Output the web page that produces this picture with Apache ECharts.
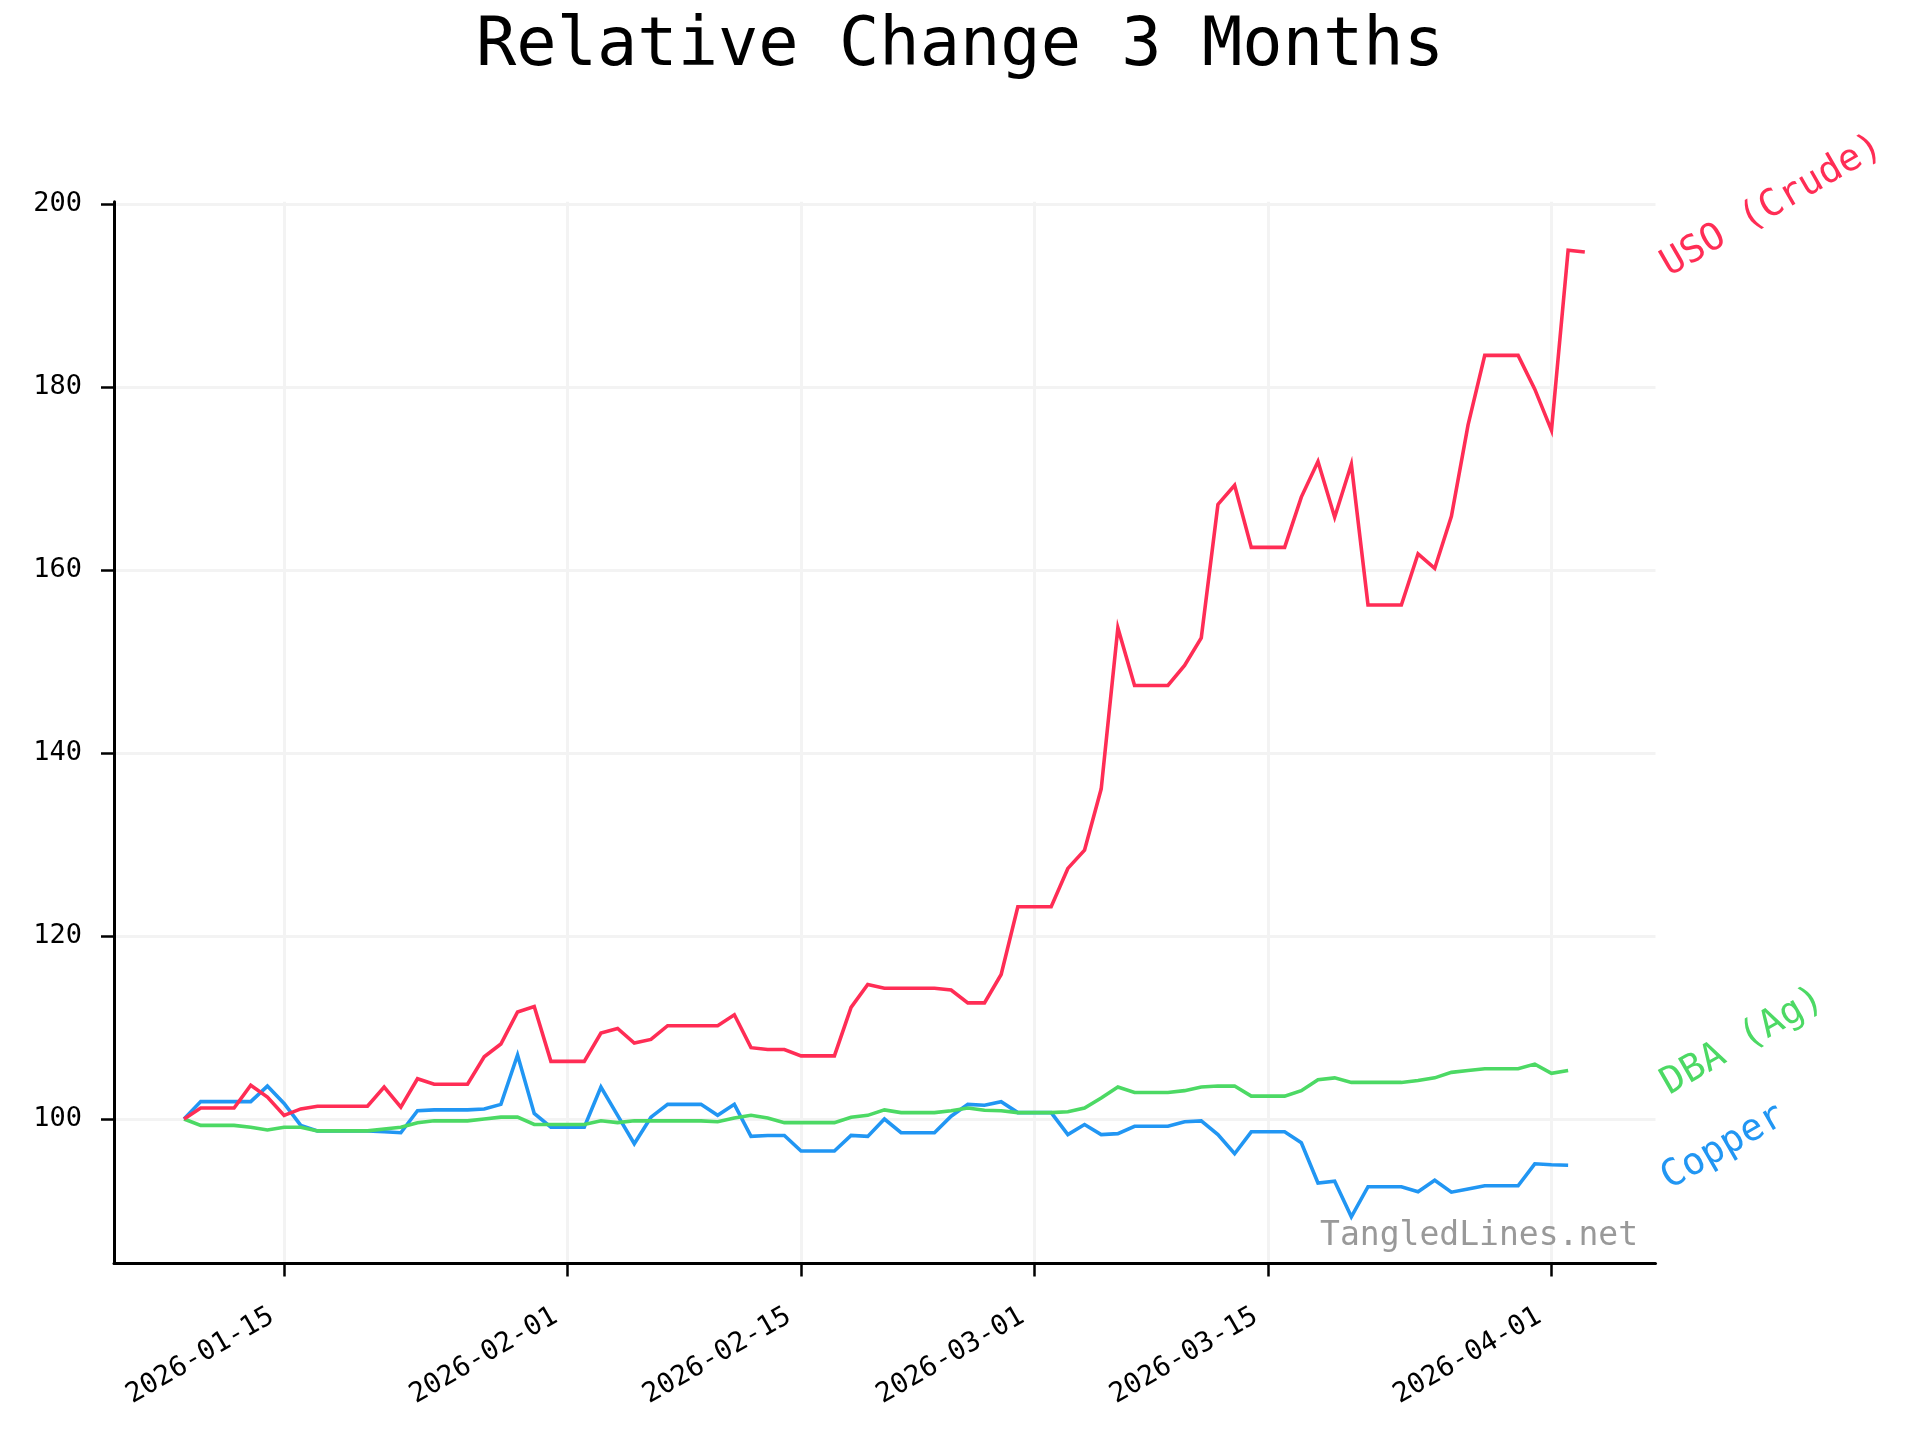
<!DOCTYPE html>
<html>
<head>
<meta charset="utf-8">
<script src="https://cdn.jsdelivr.net/npm/echarts@6/dist/echarts.min.js"></script>
<style>
html,body{margin:0;padding:0;background:#fff;}
#chart{width:1920px;height:1440px;}
</style>
</head>
<body>
<div id="chart"></div>
<script>
// ---- data (daily, 2026-01-09 onwards) ----
const startDate = [2026, 0, 9];
const usoValues = [
  100, 101.2, 101.2, 101.2, 103.7, 102.4, 100.4, 101.1, 101.4, 101.4, 101.4, 101.4, 103.5, 101.3, 104.4, 103.8, 103.8, 103.8, 106.8, 108.2, 111.7, 112.3, 106.3,
  106.3, 106.3, 109.4, 109.9, 108.3, 108.7, 110.2, 110.2, 110.2, 110.2, 111.4, 107.8, 107.6, 107.6, 106.9, 106.9, 106.9, 112.2, 114.7, 114.3, 114.3, 114.3, 114.3, 114.1, 112.7, 112.7, 115.8, 123.2,
  123.2, 123.2, 127.4, 129.4, 136.1, 153.7, 147.4, 147.4, 147.4, 149.6, 152.6, 167.2, 169.3, 162.5, 162.5, 162.5, 168.0, 171.9, 165.8, 171.6, 156.2, 156.2, 156.2, 161.8, 160.2, 165.9, 175.9, 183.5, 183.5, 183.5, 179.8,
  175.3, 195.0, 194.8
];
const copperValues = [
  100, 101.9, 101.9, 101.9, 101.9, 103.6, 101.7, 99.3, 98.7, 98.7, 98.7, 98.7, 98.6, 98.5, 100.9, 101.0, 101.0, 101.0, 101.1, 101.6, 107.0, 100.6, 99.1,
  99.1, 99.1, 103.5, 100.4, 97.3, 100.2, 101.6, 101.6, 101.6, 100.4, 101.6, 98.1, 98.2, 98.2, 96.5, 96.5, 96.5, 98.2, 98.1, 100.0, 98.5, 98.5, 98.5, 100.3, 101.6, 101.5, 101.9, 100.7,
  100.7, 100.7, 98.3, 99.4, 98.3, 98.4, 99.2, 99.2, 99.2, 99.7, 99.8, 98.3, 96.2, 98.6, 98.6, 98.6, 97.4, 93.0, 93.2, 89.3, 92.6, 92.6, 92.6, 92.05, 93.3, 92.0, 92.35, 92.7, 92.7, 92.7, 95.1,
  95.0, 94.95
];
const dbaValues = [
  100, 99.3, 99.3, 99.3, 99.1, 98.8, 99.1, 99.1, 98.7, 98.7, 98.7, 98.7, 98.9, 99.1, 99.6, 99.8, 99.8, 99.8, 100.0, 100.2, 100.2, 99.4, 99.4,
  99.4, 99.4, 99.8, 99.6, 99.8, 99.8, 99.8, 99.8, 99.8, 99.7, 100.1, 100.4, 100.1, 99.6, 99.6, 99.6, 99.6, 100.2, 100.4, 101.0, 100.7, 100.7, 100.7, 100.9, 101.2, 100.95, 100.9, 100.7,
  100.7, 100.7, 100.8, 101.2, 102.3, 103.5, 102.9, 102.9, 102.9, 103.1, 103.5, 103.6, 103.6, 102.5, 102.5, 102.5, 103.1, 104.3, 104.5, 104.0, 104.0, 104.0, 104.0, 104.2, 104.5, 105.1, 105.3, 105.5, 105.5, 105.5, 106.0,
  105.0, 105.3
];
const seriesNames = ['Copper', 'DBA (Ag)', 'USO (Crude)'];
const seriesColors = ['#2196F3', '#4CD964', '#FF2D55'];
const xTickDates = ['2026-01-15', '2026-02-01', '2026-02-15', '2026-03-01', '2026-03-15', '2026-04-01'];
const yTickValues = [100, 120, 140, 160, 180, 200];

const FONT = '"DejaVu Sans Mono", "Liberation Mono", monospace';

function dayMs(i) {
  return new Date(startDate[0], startDate[1], startDate[2] + i).getTime();
}
function parseDay(s) {
  const p = s.split('-').map(Number);
  return new Date(p[0], p[1] - 1, p[2]).getTime();
}
function pad(n) { return n < 10 ? '0' + n : '' + n; }
function fmt(v) {
  const d = new Date(v);
  return d.getFullYear() + '-' + pad(d.getMonth() + 1) + '-' + pad(d.getDate());
}
const allValues = [copperValues, dbaValues, usoValues];
const seriesData = allValues.map(arr => arr.map((v, i) => [dayMs(i), v]));

const chart = echarts.init(document.getElementById('chart'), null, {renderer: 'canvas'});

const option = {
  animation: false,
  backgroundColor: '#ffffff',
  title: {
    text: 'Relative Change 3 Months',
    left: 'center',
    top: 9,
    textStyle: {fontFamily: FONT, fontSize: 67, fontWeight: 'normal', color: '#000'}
  },
  grid: {
    left: 114, right: 264.5, top: 201.7, bottom: 176.5,
    containLabel: false, outerBoundsMode: 'none'
  },
  xAxis: {
    type: 'value',
    min: new Date(2026, 0, 4, 19, 12).getTime(),
    max: new Date(2026, 3, 7, 5, 45).getTime(),
    axisLine: {show: true, onZero: false, lineStyle: {color: '#000', width: 3}},
    axisTick: {show: true, length: 13, customValues: xTickDates.map(parseDay), lineStyle: {color: '#000', width: 2.5}},
    axisLabel: {
      customValues: xTickDates.map(parseDay),
      formatter: v => fmt(v),
      rotate: 30,
      margin: 44,
      padding: [0, 14, 0, 0],
      fontFamily: FONT, fontSize: 27.5, color: '#000'
    },
    splitLine: {show: true, lineStyle: {color: '#f3f3f3', width: 3}}
  },
  yAxis: {
    type: 'value',
    min: 84.2,
    max: 200.3,
    axisLine: {show: true, lineStyle: {color: '#000', width: 3}},
    axisTick: {show: true, length: 13, customValues: yTickValues, lineStyle: {color: '#000', width: 2.5}},
    axisLabel: {customValues: yTickValues, margin: 32, fontFamily: FONT, fontSize: 27, color: '#000'},
    splitLine: {show: true, lineStyle: {color: '#f3f3f3', width: 3}}
  },
  series: seriesNames.map((name, k) => ({
    name: name,
    type: 'line',
    data: seriesData[k],
    showSymbol: false,
    symbol: 'none',
    z: 2 + k,
    lineStyle: {color: seriesColors[k], width: 3.6, join: 'miter'},
    itemStyle: {color: seriesColors[k]}
  }))
};
chart.setOption(option);

// End labels, placed next to each series' last value
const gridRightPx = 1920 - 264.5;
const graphics = [];
seriesNames.forEach((name, k) => {
  const arr = allValues[k];
  const last = [dayMs(arr.length - 1), arr[arr.length - 1]];
  const p = chart.convertToPixel({gridIndex: 0}, last);
  graphics.push({
    type: 'text',
    x: gridRightPx + 9,
    y: p[1] + 16,
    rotation: Math.PI / 6,
    style: {text: name, fill: seriesColors[k], font: '37.5px ' + FONT, textAlign: 'left', textVerticalAlign: 'middle'}
  });
});
graphics.push({
  type: 'text',
  x: 1638,
  y: 1236,
  style: {text: 'TangledLines.net', fill: '#999999', font: '33px ' + FONT, textAlign: 'right', textVerticalAlign: 'middle'}
});
chart.setOption({graphic: graphics});
</script>
</body>
</html>
